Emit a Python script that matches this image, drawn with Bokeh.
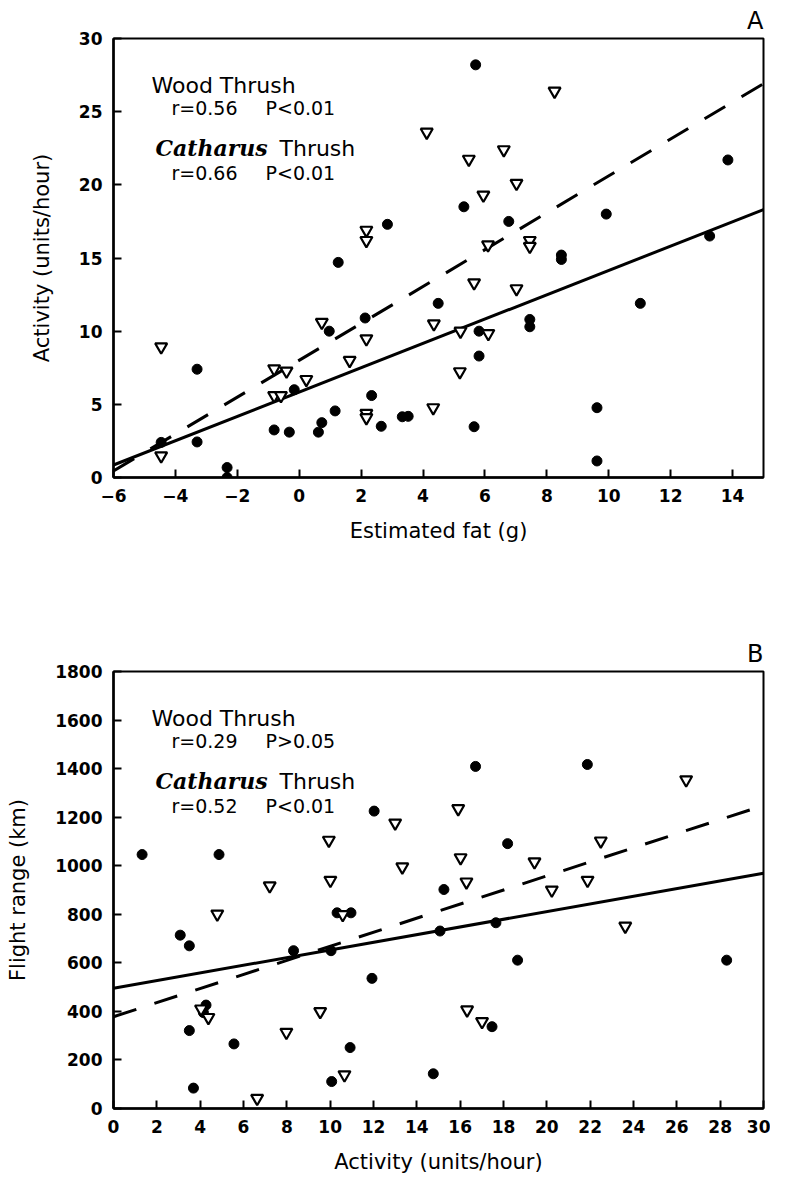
from bokeh.plotting import figure
from bokeh.models import FixedTicker, Label
from bokeh.layouts import column
from bokeh.embed import file_html
from bokeh.resources import INLINE
import numpy as np

# ---------------- Panel A data: estimated fat (g) vs activity (units/hour)
a_wood_fat = [5.70, 13.85, 5.32, 9.92, 2.85, 6.77, 13.26, 8.47, 8.47, 1.26, 4.49, 11.02,
              2.13, 7.45, 7.45, 0.97, 5.81, 5.81, -3.30, -0.16, 2.34, 1.16, 3.33, 3.52,
              9.62, 0.73, 2.65, 5.65, -0.81, -0.32, 0.62, -3.30, -4.46, -2.33, -2.33, 9.62]
a_wood_act = [28.2, 21.7, 18.5, 18.0, 17.3, 17.5, 16.5, 15.2, 14.9, 14.7, 11.9, 11.9,
              10.9, 10.8, 10.3, 10.0, 10.0, 8.3, 7.4, 6.0, 5.6, 4.55, 4.15, 4.18,
              4.77, 3.75, 3.5, 3.47, 3.25, 3.1, 3.1, 2.43, 2.4, 0.68, 0.0, 1.13]
a_cath_fat = [8.25, 4.12, 6.61, 5.48, 7.02, 5.95, 2.17, 2.17, 7.45, 7.45, 6.10, 5.65,
              7.02, 0.73, 4.35, 5.21, 6.11, 2.17, -4.46, 1.63, -0.81, -0.41, 5.19, 0.23,
              -0.81, -0.59, 4.33, 2.17, 2.17, -4.46]
a_cath_act = [26.4, 23.6, 22.4, 21.75, 20.1, 19.3, 16.9, 16.2, 16.2, 15.8, 15.9, 13.3,
              12.9, 10.6, 10.5, 10.0, 9.84, 9.48, 8.93, 8.0, 7.43, 7.27, 7.23, 6.7,
              5.6, 5.6, 4.77, 4.38, 4.09, 1.48]
a_x_range = [-6, 15]
a_y_range = [0, 30]
a_x_ticks = [-6, -4, -2, 0, 2, 4, 6, 8, 10, 12, 14]
a_x_tick_labels = ["\u22126", "\u22124", "\u22122", "0", "2", "4", "6", "8", "10", "12", "14"]
a_y_ticks = [0, 5, 10, 15, 20, 25, 30]
a_wood_fit = [5.84, 0.831]    # intercept, slope (solid)
a_cath_fit = [8.01, 1.26]     # intercept, slope (dashed)
a_stats = [("r=0.56", "P<0.01"), ("r=0.66", "P<0.01")]

# ---------------- Panel B data: activity (units/hour) vs flight range (km)
b_wood_act = [1.32, 4.87, 12.03, 16.71, 21.87, 18.19, 15.25, 10.32, 10.96, 3.08, 3.50,
              8.31, 10.04, 15.07, 17.65, 18.65, 28.3, 11.93, 4.27, 4.15, 3.50, 5.56,
              10.92, 17.47, 14.76, 10.07, 3.69]
b_wood_rng = [1046, 1046, 1225, 1409, 1417, 1091, 902, 806, 806, 714, 670,
              650, 650, 731, 765, 611, 611, 536, 426, 395, 321, 266,
              251, 337, 143, 111, 84]
b_cath_act = [13.0, 9.94, 13.33, 7.21, 10.01, 26.43, 15.91, 22.49, 16.02, 19.43, 16.29,
              21.88, 20.23, 23.62, 16.32, 17.01, 4.79, 10.58, 4.04, 4.38, 9.54, 7.98,
              10.66, 6.63]
b_cath_rng = [1176, 1105, 995, 917, 940, 1354, 1235, 1102, 1033, 1016, 933,
              940, 900, 751, 406, 358, 801, 799, 410, 375, 399, 314,
              139, 42]
b_x_range = [0, 30]
b_y_range = [0, 1800]
b_x_ticks = list(range(0, 31, 2))
b_y_ticks = list(range(0, 1801, 200))
b_wood_fit = [495, 15.8]
b_cath_fit = [378, 29.0]
b_stats = [("r=0.29", "P>0.05"), ("r=0.52", "P<0.01")]

BLACK = "black"


def make_fig(height, xr, yr, xt, yt, xlab, ylab, top, bottom, letter, xt_labels=None):
    p = figure(width=770, height=height, x_range=tuple(xr), y_range=tuple(yr),
               output_backend="svg", toolbar_location=None,
               min_border_left=113, min_border_right=7,
               min_border_top=top, min_border_bottom=bottom)
    p.title.text = letter
    p.title.align = "right"
    p.title.text_font = "DejaVu Sans"
    p.title.text_font_style = "normal"
    p.title.text_font_size = "24px"
    p.title.text_color = BLACK
    p.title.standoff = 8
    p.title.offset = 0
    p.xgrid.visible = False
    p.ygrid.visible = False
    p.outline_line_color = BLACK
    p.outline_line_width = 2
    p.outline_line_alpha = 1
    p.background_fill_color = "white"
    p.border_fill_color = "white"
    p.xaxis.ticker = FixedTicker(ticks=xt)
    p.yaxis.ticker = FixedTicker(ticks=yt)
    if xt_labels:
        p.xaxis.major_label_overrides = {t: l for t, l in zip(xt, xt_labels)}
    p.yaxis.major_label_overrides = {t: str(t) for t in yt}
    for ax in (p.xaxis[0], p.yaxis[0]):
        ax.axis_line_width = 2.5
        ax.axis_line_color = BLACK
        ax.major_tick_in = 8
        ax.major_tick_out = 0
        ax.major_tick_line_width = 2
        ax.major_tick_line_color = BLACK
        ax.minor_tick_line_color = None
        ax.major_label_text_font = "DejaVu Sans"
        ax.major_label_text_font_style = "bold"
        ax.major_label_text_font_size = "17px"
        ax.major_label_text_color = BLACK
        ax.axis_label_text_font = "DejaVu Sans"
        ax.axis_label_text_font_style = "normal"
        ax.axis_label_text_font_size = "21px"
        ax.axis_label_text_color = BLACK
        ax.major_label_standoff = 11
        ax.axis_label_standoff = 14
    p.yaxis.axis_label_standoff = 22
    p.xaxis.axis_label = xlab
    p.yaxis.axis_label = ylab
    return p


def add_series(p, wx, wy, cx, cy, wfit, cfit, xr):
    xs = np.array(xr, dtype=float)
    p.line(xs, wfit[0] + wfit[1] * xs, line_color=BLACK, line_width=3)
    p.line(xs, cfit[0] + cfit[1] * xs, line_color=BLACK, line_width=3, line_dash="24 19")
    p.scatter(wx, wy, marker="circle", size=10, fill_color=BLACK, line_color=BLACK)
    p.scatter(cx, cy, marker="inverted_triangle", size=12, fill_color="white",
              line_color=BLACK, line_width=2.2)


def add_texts(p, px2x, py2y, stats, top):
    # positions are given in page pixels relative to the frame top
    def lab(text, px, py, size, font="DejaVu Sans", style="normal"):
        p.add_layout(Label(x=px2x(px), y=py2y(py), text=text, text_font=font,
                           text_font_style=style, text_font_size=size,
                           text_color=BLACK, text_align="left",
                           text_baseline="alphabetic"))
    lab("Wood Thrush", 159, top + 47, "22px")
    lab(stats[0][0], 179, top + 70, "19px")
    lab(stats[0][1], 273, top + 70, "19px")
    lab("Catharus", 163, top + 110, "22px", font="DejaVu Serif", style="bold italic")
    lab("Thrush", 287, top + 110, "22px")
    lab(stats[1][0], 179, top + 135, "19px")
    lab(stats[1][1], 273, top + 135, "19px")


# Panel A: frame at page x 121..771, y 45..485
pa = make_fig(600, a_x_range, a_y_range, a_x_ticks, a_y_ticks,
              "Estimated fat (g)", "Activity (units/hour)", 37, 123, "A", a_x_tick_labels)
add_series(pa, a_wood_fat, a_wood_act, a_cath_fat, a_cath_act, a_wood_fit, a_cath_fit, a_x_range)
ax_px = lambda px: a_x_range[0] + (px - 121) * (a_x_range[1] - a_x_range[0]) / 650.0
ay_px = lambda py: a_y_range[1] - (py - 45) * (a_y_range[1] - a_y_range[0]) / 440.0
add_texts(pa, ax_px, ay_px, a_stats, 45)

# Panel B: frame at page x 121..771, y 679..1117
pb = make_fig(576, b_x_range, b_y_range, b_x_ticks, b_y_ticks,
              "Activity (units/hour)", "Flight range (km)", 71, 67, "B")
add_series(pb, b_wood_act, b_wood_rng, b_cath_act, b_cath_rng, b_wood_fit, b_cath_fit, b_x_range)
bx_px = lambda px: b_x_range[0] + (px - 121) * (b_x_range[1] - b_x_range[0]) / 650.0
by_px = lambda py: b_y_range[1] - (py - 679) * (b_y_range[1] - b_y_range[0]) / 438.0
add_texts(pb, bx_px, by_px, b_stats, 679)

layout = column(pa, pb, spacing=0)
open("out.html", "w").write(file_html(layout, INLINE))
